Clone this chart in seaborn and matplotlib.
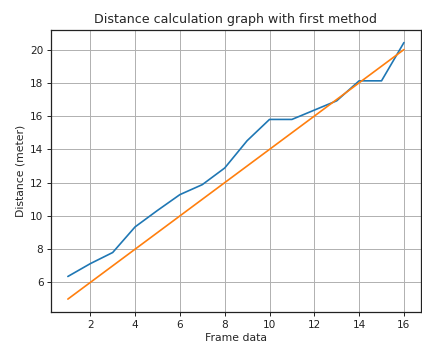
import matplotlib
matplotlib.use("Agg")
import matplotlib.pyplot as plt
import seaborn as sns
import pandas as pd

frames = list(range(1, 17))
measured = [6.36, 7.13, 7.8, 9.34, 10.33, 11.28, 11.88, 12.88, 14.52, 15.8, 15.8, 16.36, 16.92, 18.12, 18.12, 20.42]
reference = [5, 6, 7, 8, 9, 10, 11, 12, 13, 14, 15, 16, 17, 18, 19, 20]

sns.set_style("ticks")
plt.rcParams['font.family'] = ['DejaVu Sans']

fig, ax = plt.subplots(figsize=(4.22, 3.42), dpi=100)
df = pd.DataFrame({"frame": frames, "measured": measured, "reference": reference})
sns.lineplot(data=df, x="frame", y="measured", ax=ax, color="#1f77b4", linewidth=1.2)
sns.lineplot(data=df, x="frame", y="reference", ax=ax, color="#ff7f0e", linewidth=1.2)
ax.grid(True, color="#b0b0b0", linewidth=0.7)
ax.set_xticks([2, 4, 6, 8, 10, 12, 14, 16])
ax.set_yticks([6, 8, 10, 12, 14, 16, 18, 20])
ax.set_xlim(0.25, 16.75)
ax.set_ylim(4.23, 21.17)
ax.tick_params(labelsize=7.6, length=3, width=0.7, pad=2.5, colors="#222222")
ax.set_xlabel("Frame data", fontsize=7.8, labelpad=2.5)
ax.set_ylabel("Distance (meter)", fontsize=7.8, labelpad=3)
ax.set_title("Distance calculation graph with first method", fontsize=9.1, pad=5)
for s in ax.spines.values():
    s.set_color("#222222")
    s.set_linewidth(0.9)
fig.subplots_adjust(left=0.121, right=0.997, top=0.912, bottom=0.088)
fig.savefig("out.png", dpi=100)
